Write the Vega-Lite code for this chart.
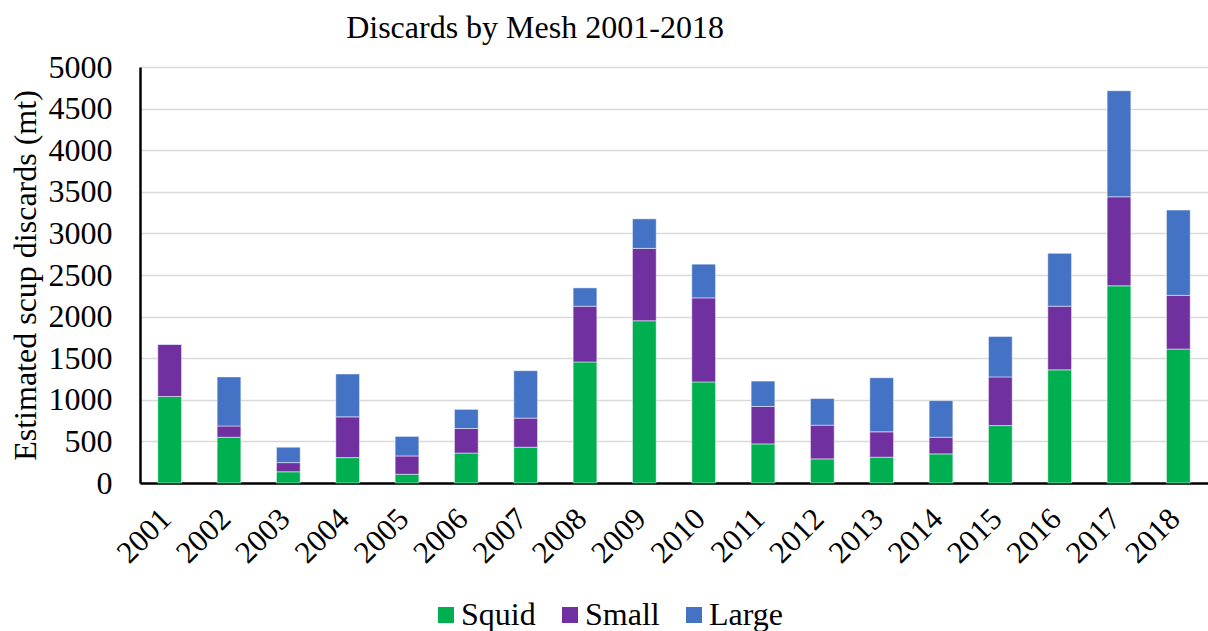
{
  "$schema": "https://vega.github.io/schema/vega-lite/v6.json",
  "width": 1068,
  "height": 416,
  "autosize": {"type": "none"},
  "padding": {"left": 140, "top": 67, "right": 0, "bottom": 148},
  "background": "white",
  "title": {
    "text": "Discards by Mesh 2001-2018",
    "anchor": "middle",
    "dx": -139,
    "offset": 6
  },
  "config": {
    "view": {"stroke": null},
    "font": "Liberation Serif",
    "title": {"font": "Liberation Serif", "fontSize": 32, "fontWeight": "normal", "color": "black"},
    "axis": {"labelFont": "Liberation Serif", "titleFont": "Liberation Serif", "labelColor": "black", "titleColor": "black"},
    "legend": {"labelFont": "Liberation Serif", "labelColor": "black"}
  },
  "data": {
    "values": [
      {"year": "2001", "mesh": "Squid", "mt": 1040},
      {"year": "2001", "mesh": "Small", "mt": 625},
      {"year": "2001", "mesh": "Large", "mt": 5},
      {"year": "2002", "mesh": "Squid", "mt": 550},
      {"year": "2002", "mesh": "Small", "mt": 135},
      {"year": "2002", "mesh": "Large", "mt": 590},
      {"year": "2003", "mesh": "Squid", "mt": 135},
      {"year": "2003", "mesh": "Small", "mt": 110},
      {"year": "2003", "mesh": "Large", "mt": 185},
      {"year": "2004", "mesh": "Squid", "mt": 305},
      {"year": "2004", "mesh": "Small", "mt": 490},
      {"year": "2004", "mesh": "Large", "mt": 515},
      {"year": "2005", "mesh": "Squid", "mt": 105},
      {"year": "2005", "mesh": "Small", "mt": 220},
      {"year": "2005", "mesh": "Large", "mt": 235},
      {"year": "2006", "mesh": "Squid", "mt": 360},
      {"year": "2006", "mesh": "Small", "mt": 295},
      {"year": "2006", "mesh": "Large", "mt": 230},
      {"year": "2007", "mesh": "Squid", "mt": 430},
      {"year": "2007", "mesh": "Small", "mt": 350},
      {"year": "2007", "mesh": "Large", "mt": 570},
      {"year": "2008", "mesh": "Squid", "mt": 1455},
      {"year": "2008", "mesh": "Small", "mt": 670},
      {"year": "2008", "mesh": "Large", "mt": 220},
      {"year": "2009", "mesh": "Squid", "mt": 1950},
      {"year": "2009", "mesh": "Small", "mt": 870},
      {"year": "2009", "mesh": "Large", "mt": 355},
      {"year": "2010", "mesh": "Squid", "mt": 1215},
      {"year": "2010", "mesh": "Small", "mt": 1010},
      {"year": "2010", "mesh": "Large", "mt": 405},
      {"year": "2011", "mesh": "Squid", "mt": 470},
      {"year": "2011", "mesh": "Small", "mt": 450},
      {"year": "2011", "mesh": "Large", "mt": 305},
      {"year": "2012", "mesh": "Squid", "mt": 290},
      {"year": "2012", "mesh": "Small", "mt": 405},
      {"year": "2012", "mesh": "Large", "mt": 320},
      {"year": "2013", "mesh": "Squid", "mt": 310},
      {"year": "2013", "mesh": "Small", "mt": 305},
      {"year": "2013", "mesh": "Large", "mt": 650},
      {"year": "2014", "mesh": "Squid", "mt": 350},
      {"year": "2014", "mesh": "Small", "mt": 200},
      {"year": "2014", "mesh": "Large", "mt": 440},
      {"year": "2015", "mesh": "Squid", "mt": 690},
      {"year": "2015", "mesh": "Small", "mt": 585},
      {"year": "2015", "mesh": "Large", "mt": 485},
      {"year": "2016", "mesh": "Squid", "mt": 1360},
      {"year": "2016", "mesh": "Small", "mt": 765},
      {"year": "2016", "mesh": "Large", "mt": 635},
      {"year": "2017", "mesh": "Squid", "mt": 2370},
      {"year": "2017", "mesh": "Small", "mt": 1070},
      {"year": "2017", "mesh": "Large", "mt": 1275},
      {"year": "2018", "mesh": "Squid", "mt": 1610},
      {"year": "2018", "mesh": "Small", "mt": 645},
      {"year": "2018", "mesh": "Large", "mt": 1025}
    ]
  },
  "mark": {"type": "bar", "stroke": "#ffffff", "strokeWidth": 0.8, "strokeOpacity": 0.6},
  "encoding": {
    "x": {
      "field": "year",
      "type": "ordinal",
      "title": null,
      "scale": {"paddingInner": 0.6, "paddingOuter": 0.3},
      "axis": {
        "labelAngle": -45,
        "labelAlign": "right",
        "labelBaseline": "middle",
        "labelFont": "Liberation Serif",
        "labelFontSize": 31,
        "labelPadding": 31,
        "labelOffset": -3,
        "ticks": false,
        "domainColor": "black",
        "domainWidth": 2.5,
        "grid": false
      }
    },
    "y": {
      "field": "mt",
      "type": "quantitative",
      "aggregate": "sum",
      "stack": "zero",
      "title": "Estimated scup discards (mt)",
      "scale": {"domain": [0, 5000], "nice": false},
      "axis": {
        "values": [0, 500, 1000, 1500, 2000, 2500, 3000, 3500, 4000, 4500, 5000],
        "format": "d",
        "labelFont": "Liberation Serif",
        "labelFontSize": 32,
        "labelPadding": 28,
        "ticks": false,
        "domainColor": "black",
        "domainWidth": 2.5,
        "gridColor": "#d9d9d9",
        "gridWidth": 1.5,
        "titleFont": "Liberation Serif",
        "titleFontSize": 32,
        "titleFontWeight": "normal",
        "titlePadding": 6
      }
    },
    "color": {
      "field": "mesh",
      "type": "nominal",
      "scale": {"domain": ["Squid", "Small", "Large"], "range": ["#00b050", "#7030a0", "#4472c4"]},
      "legend": {
        "title": null,
        "orient": "none",
        "direction": "horizontal",
        "legendX": 290,
        "legendY": 532,
        "symbolType": "square",
        "symbolSize": 256,
        "symbolStrokeWidth": 0,
        "labelFont": "Liberation Serif",
        "labelFontSize": 32,
        "labelOffset": -1,
        "columnPadding": 18
      }
    },
    "order": {"field": "mesh", "sort": "descending"}
  }
}
